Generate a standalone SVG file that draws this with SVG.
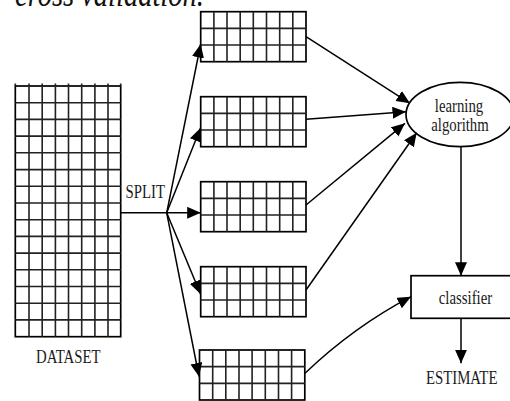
<svg xmlns="http://www.w3.org/2000/svg" xmlns:xlink="http://www.w3.org/1999/xlink" width="510" height="401" viewBox="0 0 510 401">
<style>
.grid{fill:none;stroke:#000;stroke-width:1.7}
.inner{fill:none;stroke:#222;stroke-width:1.6}
.edge{fill:none;stroke:#000;stroke-width:1.5}
.shape{fill:#fff;stroke:#000;stroke-width:1.7}
.lbl{font-family:"Liberation Serif","Times New Roman",serif;font-size:14.8px;fill:#1a1a1a;text-anchor:middle}
.title{font-family:"Liberation Serif","Times New Roman",serif;font-size:28.5px;font-style:italic;fill:#111}
</style>
<defs>
<marker id="ah" markerUnits="userSpaceOnUse" markerWidth="15" markerHeight="13" refX="13.5" refY="6" orient="auto">
<path d="M0,0 L13.5,6 L0,12 z" fill="#000"/>
</marker>
<g id="small">
<rect class="grid" x="0" y="0" width="105.3" height="50"/>
<path class="inner" d="M13.2,0V50M26.3,0V50M39.5,0V50M52.6,0V50M65.8,0V50M79,0V50M92.1,0V50M0,16.67H105.3M0,33.33H105.3"/>
</g>
</defs>
<text class="title" transform="translate(15,5.5) scale(1,1.28)">cross validation.</text>
<g id="dataset">
<rect class="grid" x="15.3" y="86" width="105.4" height="250.7"/>
<path class="inner" d="M15.3,83.5V86M120.7,83.5V86M29,83.5V336.7M42.2,83.5V336.7M55.4,83.5V336.7M68.5,83.5V336.7M81.7,83.5V336.7M94.9,83.5V336.7M108,83.5V336.7M15.3,102.7H120.7M15.3,119.4H120.7M15.3,136.1H120.7M15.3,152.8H120.7M15.3,169.6H120.7M15.3,186.3H120.7M15.3,203H120.7M15.3,219.7H120.7M15.3,236.4H120.7M15.3,253.1H120.7M15.3,269.8H120.7M15.3,286.5H120.7M15.3,303.2H120.7M15.3,319.9H120.7"/>
<text class="lbl" transform="translate(68.3,363) scale(1,1.28)">DATASET</text>
</g>
<g id="split">
<text class="lbl" transform="translate(145.3,198.3) scale(1,1.28)">SPLIT</text>
</g>
<g id="fold1"><use xlink:href="#small" x="200.7" y="11.7"/></g>
<g id="fold2"><use xlink:href="#small" x="200.7" y="96.7"/></g>
<g id="fold3"><use xlink:href="#small" x="200.7" y="181.7"/></g>
<g id="fold4"><use xlink:href="#small" x="200.7" y="266.7"/></g>
<g id="fold5"><use xlink:href="#small" x="199.5" y="350"/></g>
<g id="learning">
<ellipse class="shape" cx="460" cy="114.5" rx="54" ry="32.2"/>
<text class="lbl" transform="translate(459,112) scale(1,1.28)">learning</text>
<text class="lbl" transform="translate(460,131) scale(1,1.28)">algorithm</text>
</g>
<g id="classifier">
<rect class="shape" x="411" y="275.7" width="112" height="42.6"/>
<text class="lbl" transform="translate(465.5,304.3) scale(1,1.28)">classifier</text>
</g>
<g id="estimate">
<text class="lbl" transform="translate(461.7,384.3) scale(1,1.28)">ESTIMATE</text>
</g>
<g id="connectors">
<path class="edge" d="M120.7,212.8H166.7"/>
<path class="edge" d="M166.7,212.8L200.7,44" marker-end="url(#ah)"/>
<path class="edge" d="M166.7,212.8L200.5,128" marker-end="url(#ah)"/>
<path class="edge" d="M166.7,212.8L200.7,212.8" marker-end="url(#ah)"/>
<path class="edge" d="M166.7,212.8L200.5,294" marker-end="url(#ah)"/>
<path class="edge" d="M166.7,212.8L199,376.5" marker-end="url(#ah)"/>
<path class="edge" d="M306,36.7L410,103.3" marker-end="url(#ah)"/>
<path class="edge" d="M306,119.3L406,111.7" marker-end="url(#ah)"/>
<path class="edge" d="M306,205L405,123.3" marker-end="url(#ah)"/>
<path class="edge" d="M306,290L416.7,132.7" marker-end="url(#ah)"/>
<path class="edge" d="M305,373.3Q353.5,327 411,296.7" marker-end="url(#ah)"/>
<path class="edge" d="M461,146.7V275.7" marker-end="url(#ah)"/>
<path class="edge" d="M461,318.3V363.3" marker-end="url(#ah)"/>
</g>
</svg>
